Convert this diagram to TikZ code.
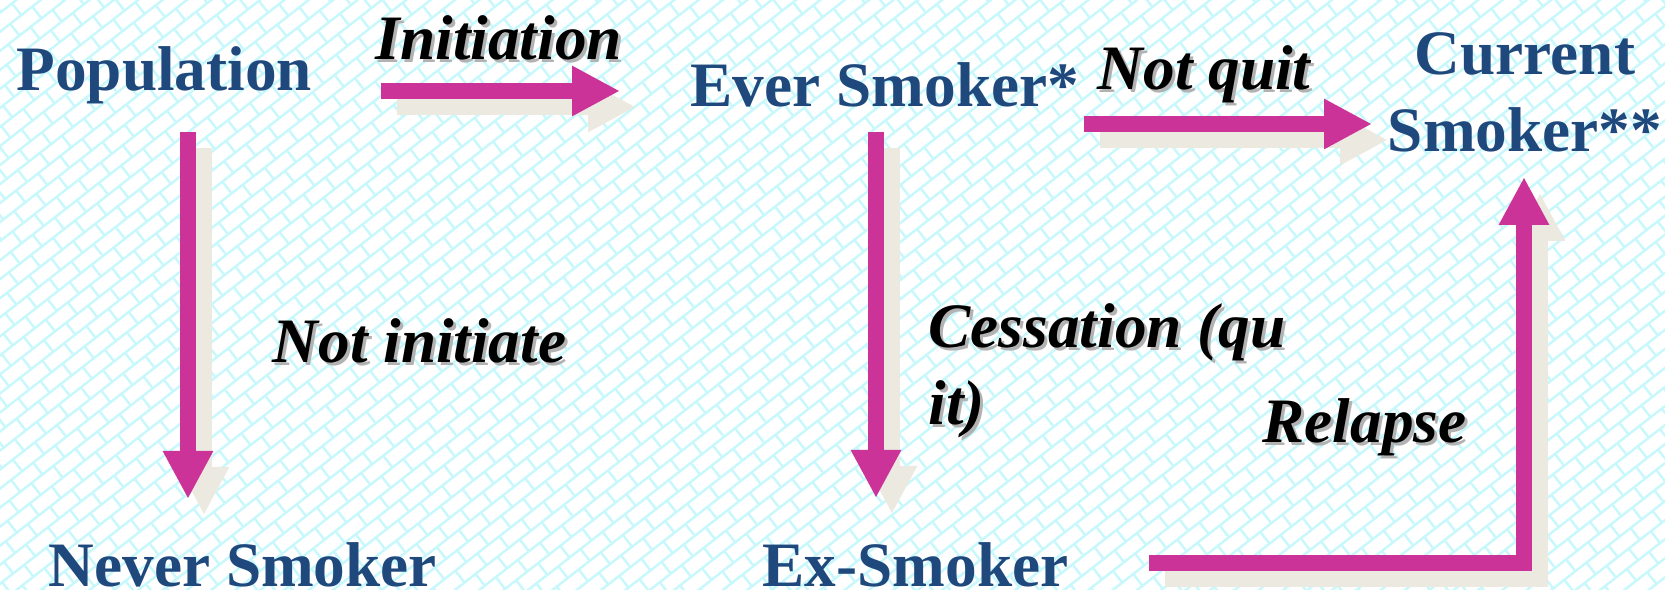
\documentclass[tikz,border=0pt]{standalone}
\usepackage{fontspec}
\setmainfont{Liberation Serif}
\usetikzlibrary{arrows.meta}
\definecolor{stateblue}{RGB}{31,73,125}
\definecolor{flowpink}{RGB}{204,51,153}
\definecolor{shadowgray}{RGB}{236,234,224}
\definecolor{bgcyan}{RGB}{200,248,252}
\tikzset{
	state/.style={
		font=\fontsize{18}{22}\selectfont\bfseries,
		text=stateblue,
		inner sep=0pt,
		anchor=base west},
	trans/.style={
		font=\fontsize{18}{22}\selectfont\bfseries\itshape,
		text=black,
		align=left,
		inner sep=0pt,
		anchor=base west},
	flow/.style={draw=flowpink, line width=0.16cm, -{Triangle[width=0.47cm,length=0.48cm]}},
	flowshadow/.style={flow, draw=shadowgray, transform canvas={shift={(0.16,-0.16)}}},
	bgline/.style={draw=bgcyan, line width=0.7pt},
	bgjoint/.style={draw=bgcyan, line width=0.15cm, dash pattern=on 0.7pt off 7.27pt},
}
% label with a soft drop shadow
\newcommand{\translabel}[3]{%
	\node[trans, text=black!30] (#1-s) at ([shift={(0.03,-0.03)}]#2) {#3};
	\node[trans] (#1) at (#2) {#3};
}

\begin{document}
\begin{tikzpicture}
	\useasboundingbox (0,0) rectangle (16.65,-5.90);
	% background bricks
	\begin{scope}
		\clip (0,0) rectangle (16.65,-5.90);
		\begin{scope}[rotate=38]
			\foreach \k in {0,...,102} {
				\pgfmathsetmacro{\yy}{-15.1+0.15*\k}
				\pgfmathsetmacro{\ph}{mod(\k,2)*0.14}
				\draw[bgline] (-4,\yy) -- (14,\yy);
				\draw[bgjoint, dash phase=\ph cm] (-4,\yy+0.075) -- (14,\yy+0.075);
			}
		\end{scope}
	\end{scope}

	% states
	\node[state] (pop) at (0.16,-0.91) {Population};
	\node[state] (ever) at (6.90,-1.07) {Ever Smoker*};
	\node[state, align=center, anchor=base] (cur) at (15.25,-1.52) {Current\\Smoker**};
	\node[state] (never) at (0.48,-5.87) {Never Smoker};
	\node[state] (ex) at (7.62,-5.87) {Ex-Smoker};

	% transitions
	\translabel{init}{3.75,-0.60}{Initiation}
	\translabel{notquit}{10.97,-0.90}{Not quit}
	\translabel{notinit}{2.72,-3.63}{Not initiate}
	\translabel{cess}{9.28,-4.25}{Cessation (qu\\it)}
	\translabel{relapse}{12.62,-4.43}{Relapse}

	% arrow ends
	\coordinate (init-a) at (3.81,-0.91);
	\coordinate (init-b) at (6.20,-0.91);
	\coordinate (quit-a) at (10.84,-1.24);
	\coordinate (quit-b) at (13.72,-1.24);
	\coordinate (never-a) at (1.88,-1.32);
	\coordinate (never-b) at (1.88,-4.99);
	\coordinate (ex-a) at (8.76,-1.32);
	\coordinate (ex-b) at (8.76,-4.98);
	\coordinate (rel-a) at (11.49,-5.63);
	\coordinate (rel-b) at (15.24,-1.77);

	\foreach \s/\e in {init-a/init-b, quit-a/quit-b, never-a/never-b, ex-a/ex-b}
		\draw[flowshadow] (\s) -- (\e);
	\draw[flowshadow] (rel-a) -| (rel-b);
	\foreach \s/\e in {init-a/init-b, quit-a/quit-b, never-a/never-b, ex-a/ex-b}
		\draw[flow] (\s) -- (\e);
	\draw[flow] (rel-a) -| (rel-b);
\end{tikzpicture}
\end{document}
